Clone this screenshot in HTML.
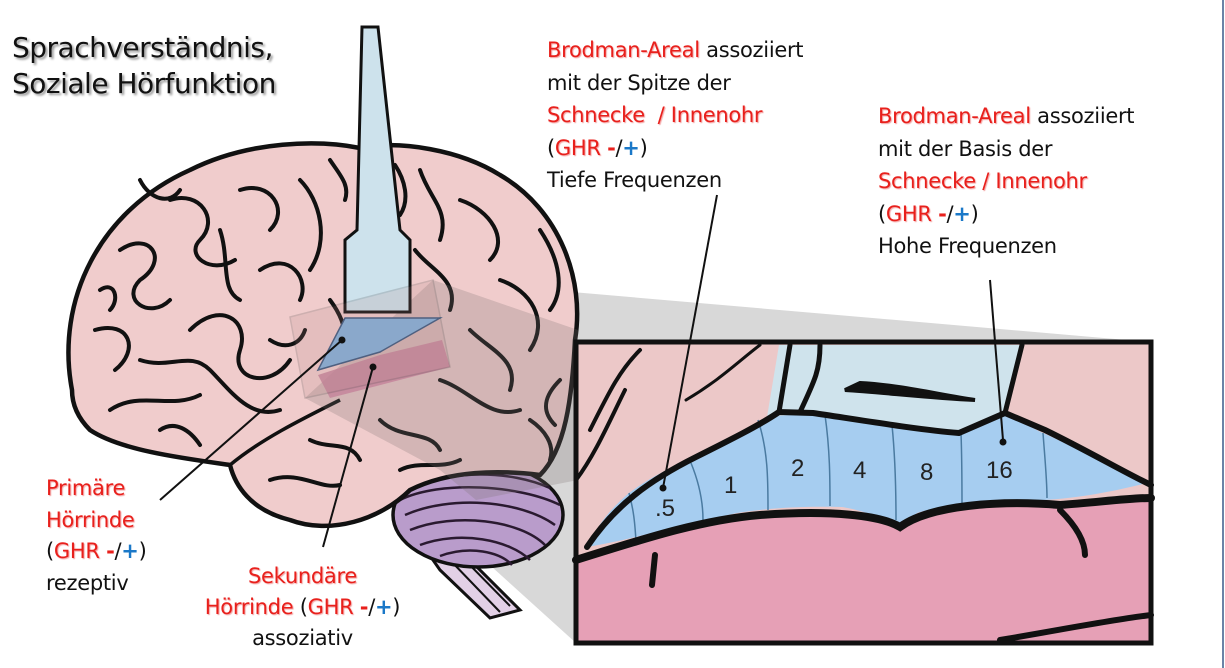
<!DOCTYPE html>
<html><head><meta charset="utf-8">
<style>
html,body{margin:0;padding:0;background:#fff;}
body{width:1225px;height:668px;position:relative;overflow:hidden;font-family:"DejaVu Sans","Liberation Sans",sans-serif;}
.t{position:absolute;font-size:21px;line-height:32.5px;color:#111;white-space:nowrap;letter-spacing:-0.3px;}
.r{color:#e8201c;text-shadow:1px 1px 1px #f3a0a0;}
.b{color:#1a78c8;font-weight:bold;}
.rb{color:#e8201c;font-weight:bold;}
.title{position:absolute;left:12px;top:30px;font-size:28px;line-height:36px;color:#111;text-shadow:2px 2px 2px #999;letter-spacing:-0.5px;}
svg{position:absolute;left:0;top:0;}
</style></head><body>
<svg width="1225" height="668" viewBox="0 0 1225 668">
<!-- projection -->
<polygon points="433,280 1150,342 1150,643 576,643 305,398" fill="#d8d8d8"/>
<!-- brainstem -->
<polygon points="395,495 445,500 470,560 520,610 490,618 440,570 405,520" fill="#e2d0e6" stroke="#111" stroke-width="3"/>
<path d="M450,560 L500,612 M460,555 L510,606" stroke="#111" stroke-width="2" fill="none"/>
<!-- cerebellum -->
<ellipse cx="478" cy="515" rx="85" ry="52" fill="#b99ccb" stroke="#111" stroke-width="3.5"/>
<path d="M400,500 C440,480 520,485 560,505 M405,515 C450,495 520,500 555,525 M410,530 C455,512 520,520 545,545 M420,545 C460,530 510,540 530,560 M440,556 C470,545 500,552 512,565 M415,488 C450,470 510,470 550,488" stroke="#2a1a30" stroke-width="2.5" fill="none"/>
<!-- brain -->
<path d="M72,390 C55,300 100,210 190,170 C250,140 320,140 360,148 C400,140 460,150 500,175 C560,210 585,280 575,340 C572,400 565,450 540,475 C500,470 450,470 410,490 C380,520 330,535 290,520 C250,510 235,485 230,465 C180,458 120,450 90,430 C78,418 72,405 72,390 Z" fill="#f0cccc" stroke="#111" stroke-width="4.5"/>
<path d="M230,465 C260,440 300,420 340,400" stroke="#111" stroke-width="3.5" fill="none"/>
<!-- sulci -->
<g stroke="#111" stroke-width="4" fill="none" stroke-linecap="round">
<path d="M120,250 C150,230 170,260 140,280 C120,300 150,320 170,300"/>
<path d="M95,330 C130,320 140,350 115,370 M110,410 C140,390 170,410 200,395"/>
<path d="M170,200 C200,190 220,220 200,240 C185,255 210,275 235,260"/>
<path d="M190,330 C220,300 250,320 240,350 C230,380 270,390 290,360"/>
<path d="M240,190 C270,180 290,210 270,230 M260,270 C290,250 310,280 300,300"/>
<path d="M300,180 C320,200 330,240 310,270 M330,300 C345,320 350,340 340,360"/>
<path d="M140,360 C170,370 190,350 210,370 C230,390 250,420 280,410"/>
<path d="M420,170 C430,200 450,210 440,240 M460,200 C490,210 510,240 490,260"/>
<path d="M415,250 C430,270 460,280 450,310 M500,280 C530,290 550,320 530,350"/>
<path d="M470,330 C490,350 520,360 510,390 M440,380 C470,390 490,420 520,410"/>
<path d="M540,230 C560,260 565,290 550,310 M530,420 C545,430 555,445 550,460"/>
<path d="M310,440 C330,450 350,440 360,460 M380,420 C400,440 430,430 440,450 M270,480 C300,470 320,490 340,485"/>
<path d="M400,470 C420,460 440,470 460,460 M220,230 C230,260 220,290 240,300 M160,430 C175,420 190,430 200,445"/>
<path d="M100,290 C115,280 120,300 110,310 M140,180 C150,200 170,205 180,190 M330,160 C340,175 350,185 345,200 M395,165 C405,180 410,200 400,215 M560,380 C545,395 540,410 555,425 M270,340 C285,350 300,345 305,330"/>
</g>
<!-- overlay shading on brain -->
<polygon points="433,280 578,330 578,480 476,500 440,470 305,398" fill="#7a7070" opacity="0.25"/>
<!-- probe -->
<path d="M362,27 L378,27 L400,230 L410,240 L410,312 L345,312 L345,240 L357,230 Z" fill="#cde2ec" stroke="#111" stroke-width="3"/>
<!-- blue & pink regions -->
<polygon points="345,318 440,318 380,352 318,370" fill="#82b2dc" stroke="#3a5a80" stroke-width="1.5"/>
<polygon points="318,375 380,355 442,340 450,367 330,398" fill="#c4829a" opacity="0.8"/>
<polygon points="290,317 433,280 450,367 305,398" fill="#b08080" opacity="0.18" stroke="#333" stroke-width="1.5"/>
<!-- pointer lines left -->
<path d="M160,500 L342,340" stroke="#111" stroke-width="2"/>
<circle cx="342" cy="340" r="3.5" fill="#111"/>
<path d="M323,547 L373,367" stroke="#111" stroke-width="2"/>
<circle cx="373" cy="367" r="3.5" fill="#111"/>
<!-- inset -->
<g>
<rect x="576" y="342" width="575" height="301" fill="#ecc8c8"/>
<path d="M576,560 C640,540 700,520 760,515 C830,510 880,515 900,527 C930,505 1000,500 1060,505 C1100,502 1130,500 1151,498 L1151,643 L576,643 Z" fill="#e6a0b6"/>
<path d="M779,345 L1022,345 L1005,413 L959,433 L813,413 L767,417 Z" fill="#cfe3ec"/>
<path d="M587,547 C600,520 615,505 629,493 C660,470 690,460 696,457 C730,440 750,425 767,417 L813,413 C860,420 920,430 959,433 L1005,413 C1020,420 1035,430 1043,433 C1080,450 1110,465 1143,482 L1143,484 C1110,492 1080,498 1043,500 C1000,503 940,505 917,513 L900,527 C880,515 850,508 842,507 C800,506 770,508 737,513 C680,525 630,540 587,547 Z" fill="#a6cdf0"/>
<g stroke="#4a7aa0" stroke-width="1.5" fill="none">
<path d="M629,493 C635,515 635,530 636,540 M691,463 C700,485 703,505 703,520 M758,420 C768,450 768,480 768,510 M825,415 C830,450 830,480 830,506 M892,425 C895,455 896,490 896,520 M961,433 C962,460 962,490 962,508 M1043,433 C1045,460 1047,480 1047,498"/>
</g>
<g stroke="#111" fill="none" stroke-linecap="round">
<path d="M587,547 C615,505 650,480 696,457 C730,440 760,425 779,412 L813,413 C860,420 920,430 959,433 L1005,413 L1045,430 C1090,452 1120,470 1151,485" stroke-width="6"/>
<path d="M576,560 C640,540 700,520 760,515 C830,510 880,515 900,527 C930,505 1000,500 1060,505 C1100,502 1130,498 1151,498" stroke-width="8"/>
<path d="M779,412 L790,345 M1005,413 L1022,345 M800,412 C815,380 820,370 820,345" stroke-width="5"/>
<path d="M845,390 L860,383 C900,385 940,395 975,400 C930,398 880,392 845,390 Z" stroke-width="4" fill="#111"/>
<path d="M590,430 C610,390 620,370 640,350 M576,480 C595,455 610,420 625,390" stroke-width="4"/>
<path d="M1060,510 C1080,530 1085,545 1085,555 M655,555 L652,585 M1000,640 C1060,630 1110,620 1151,615" stroke-width="6"/>
<path d="M686,400 C720,380 740,360 760,345" stroke-width="3"/>
</g>
<rect x="576" y="342" width="575" height="301" fill="none" stroke="#111" stroke-width="5"/>
<g font-family="Liberation Sans, sans-serif" font-size="24" fill="#222">
<text x="655" y="516">.5</text>
<text x="724" y="493">1</text>
<text x="791" y="476">2</text>
<text x="853" y="478">4</text>
<text x="920" y="480">8</text>
<text x="986" y="478">16</text>
</g>
</g>
<!-- pointer lines right -->
<path d="M717,195 L663,488" stroke="#111" stroke-width="2"/>
<circle cx="663" cy="488" r="3.5" fill="#111"/>
<path d="M990,280 L1003,440" stroke="#111" stroke-width="2"/>
<circle cx="1003" cy="442" r="3.5" fill="#111"/>
<!-- right edge blue line -->
<line x1="1223" y1="0" x2="1223" y2="668" stroke="#3a5a8a" stroke-width="1.5"/>
</svg>

<div class="title">Sprachverständnis,<br>Soziale Hörfunktion</div>

<div class="t" style="left:547px;top:34px;"><span class="r">Brodman-Areal</span> assoziiert<br>mit der Spitze der<br><span class="r">Schnecke &nbsp;/ Innenohr</span><br>(<span class="r">GHR</span> <span class="rb">-</span>/<span class="b">+</span>)<br>Tiefe Frequenzen</div>

<div class="t" style="left:878px;top:100px;"><span class="r">Brodman-Areal</span> assoziiert<br>mit der Basis der<br><span class="r">Schnecke / Innenohr</span><br>(<span class="r">GHR</span> <span class="rb">-</span>/<span class="b">+</span>)<br>Hohe Frequenzen</div>

<div class="t" style="left:46px;top:473px;line-height:31.5px;"><span class="r">Primäre</span><br><span class="r">Hörrinde</span><br>(<span class="r">GHR</span> <span class="rb">-</span>/<span class="b">+</span>)<br>rezeptiv</div>

<div class="t" style="left:185px;top:561px;line-height:31px;text-align:center;width:235px;"><span class="r">Sekundäre</span><br><span class="r">Hörrinde</span> (<span class="r">GHR</span> <span class="rb">-</span>/<span class="b">+</span>)<br>assoziativ</div>
</body></html>
